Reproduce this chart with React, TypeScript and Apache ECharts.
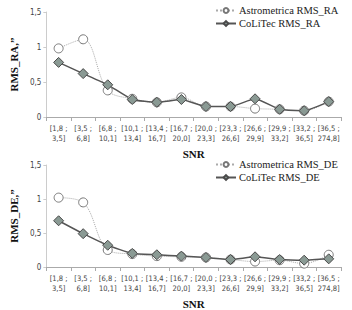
import React, { useEffect, useRef } from "react";
import * as echarts from "echarts";

const categories = [
  "[1,8 ;\n3,5]", "[3,5 ;\n6,8]", "[6,8 ;\n10,1]", "[10,1 ;\n13,4]",
  "[13,4 ;\n16,7]", "[16,7 ;\n20,0]", "[20,0 ;\n23,3]", "[23,3 ;\n26,6]",
  "[26,6 ;\n29,9]", "[29,9 ;\n33,2]", "[33,2 ;\n36,5]", "[36,5 ;\n274,8]",
];
const astroRA = [0.98, 1.11, 0.38, 0.26, 0.21, 0.28, 0.15, 0.15, 0.12, 0.11, 0.09, 0.22];
const colitecRA = [0.78, 0.62, 0.46, 0.25, 0.21, 0.25, 0.15, 0.15, 0.26, 0.11, 0.09, 0.22];
const astroDE = [1.02, 0.95, 0.25, 0.19, 0.16, 0.15, 0.14, 0.11, 0.08, 0.1, 0.05, 0.18];
const colitecDE = [0.68, 0.49, 0.32, 0.2, 0.18, 0.16, 0.14, 0.11, 0.15, 0.11, 0.1, 0.12];

const serif = "'Liberation Serif', 'DejaVu Serif', serif";
const narrow = "'DejaVu Sans Condensed', 'Liberation Sans Narrow', sans-serif";

function App() {
  const ref = useRef<HTMLDivElement>(null);
  useEffect(() => {
    document.body.style.margin = "0";
    const chart = echarts.init(ref.current!, null, { renderer: "svg" });
    const grids = [
      { left: 34, right: 11, top: 12, height: 105 },
      { left: 34, right: 11, top: 165, height: 105 },
    ];
    const xAxis = [0, 1].map((i) => ({
      type: "category",
      gridIndex: i,
      data: categories,
      boundaryGap: true,
      name: "SNR",
      nameLocation: "middle",
      nameGap: 31,
      nameTextStyle: { fontFamily: serif, fontWeight: "bold", fontSize: 11, color: "#111" },
      axisLine: { lineStyle: { color: "#aaa", width: 1 } },
      axisTick: { show: true, alignWithLabel: false, length: 4, lineStyle: { color: "#aaa" } },
      axisLabel: { interval: 0, fontFamily: narrow, fontSize: 7.5, color: "#444", lineHeight: 10, margin: 6 },
    }));
    const yAxis = [0, 1].map((i) => ({
      type: "value",
      gridIndex: i,
      min: 0,
      max: 1.5,
      interval: 0.5,
      name: i === 0 ? "RMS_RA,\u201D" : "RMS_DE,\u201D",
      nameLocation: "middle",
      nameGap: 21,
      nameTextStyle: { fontFamily: serif, fontWeight: "bold", fontSize: 11, color: "#111" },
      axisLine: { show: true, lineStyle: { color: "#ccc" } },
      axisTick: { show: true, length: 3, lineStyle: { color: "#ccc" } },
      splitLine: { show: false },
      axisLabel: {
        fontFamily: narrow,
        fontSize: 8,
        color: "#444",
        margin: 5,
        formatter: (v: number) => String(v).replace(".", ","),
      },
    }));
    const astroStyle = (name: string, data: number[], idx: number) => ({
      name,
      type: "line",
      xAxisIndex: idx,
      yAxisIndex: idx,
      data,
      smooth: 0.35,
      symbol: "circle",
      symbolSize: 9,
      lineStyle: { color: "#aaa", width: 1, type: "dotted" },
      itemStyle: { color: "#fff", borderColor: "#777", borderWidth: 1 },
    });
    const colStyle = (name: string, data: number[], idx: number) => ({
      name,
      type: "line",
      xAxisIndex: idx,
      yAxisIndex: idx,
      data,
      smooth: 0.15,
      symbol: "diamond",
      symbolSize: 10,
      lineStyle: { color: "#555", width: 1.5 },
      itemStyle: { color: "#8a9a94", borderColor: "#4a4a4a", borderWidth: 1 },
    });
    const legend = (top: number, names: string[]) => ({
      top,
      left: 210,
      orient: "vertical",
      itemWidth: 20,
      itemHeight: 6,
      itemGap: 2,
      data: names,
      textStyle: { fontFamily: serif, fontSize: 10.5, color: "#222", padding: [0, 0, 0, -2] },
    });
    chart.setOption({
      animation: false,
      backgroundColor: "#fff",
      grid: grids,
      xAxis,
      yAxis,
      legend: [
        legend(0, ["Astrometrica RMS_RA", "CoLiTec RMS_RA"]),
        legend(154, ["Astrometrica RMS_DE", "CoLiTec RMS_DE"]),
      ],
      series: [
        astroStyle("Astrometrica RMS_RA", astroRA, 0),
        colStyle("CoLiTec RMS_RA", colitecRA, 0),
        astroStyle("Astrometrica RMS_DE", astroDE, 1),
        colStyle("CoLiTec RMS_DE", colitecDE, 1),
      ],
    });
    return () => chart.dispose();
  }, []);
  return <div ref={ref} style={{ width: 352, height: 310 }} />;
}

export default App;
